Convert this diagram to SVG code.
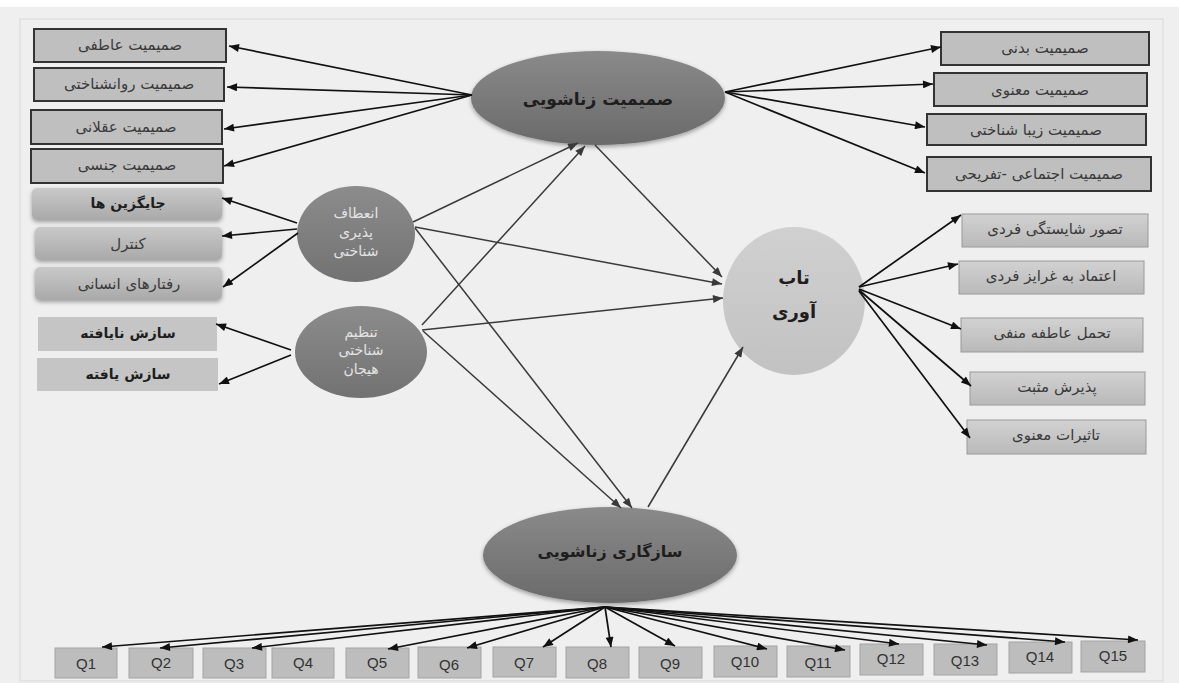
<svg xmlns="http://www.w3.org/2000/svg" width="1179" height="683" viewBox="0 0 1179 683">
<style>
.t{font-family:"DejaVu Sans","Noto Sans",sans-serif;font-size:15px;fill:#3a3a3a;text-anchor:middle;dominant-baseline:central}
.tb{font-family:"DejaVu Sans","Noto Sans",sans-serif;font-size:14px;font-weight:bold;fill:#1e1e1e;text-anchor:middle;dominant-baseline:central}
.tc{font-family:"DejaVu Sans","Noto Sans",sans-serif;font-size:14px;fill:#e4e4e4;text-anchor:middle;dominant-baseline:central}
.tq{font-family:"Liberation Sans",Arial,sans-serif;font-size:15px;fill:#333;text-anchor:middle;dominant-baseline:central}
.bx{fill:#bfbfbf;stroke:#333;stroke-width:2}
.sb{fill:url(#gs);stroke:none}
.fl{fill:#c5c5c5;stroke:none}
.rb{fill:url(#gr);stroke:#9a9a9a;stroke-width:1}
.qb{fill:#bdbdbd;stroke:#a3a3a3;stroke-width:1}
.c{stroke:#111;stroke-width:1.7;fill:none;marker-end:url(#ah)}
.ci{stroke:#3a3a3a;stroke-width:1.5;fill:none;marker-end:url(#ah2)}
</style>
<defs>
<marker id="ah" viewBox="0 0 10 8" refX="10" refY="4" markerWidth="11" markerHeight="8" markerUnits="userSpaceOnUse" orient="auto"><path d="M0,0 L10,4 L0,8 z" fill="#111"/></marker>
<marker id="ah2" viewBox="0 0 10 8" refX="10" refY="4" markerWidth="11" markerHeight="8" markerUnits="userSpaceOnUse" orient="auto"><path d="M0,0 L10,4 L0,8 z" fill="#3a3a3a"/></marker>
<linearGradient id="gd" x1="0" y1="0" x2="0" y2="1"><stop offset="0" stop-color="#8a8a8a"/><stop offset="1" stop-color="#6a6a6a"/></linearGradient>
<linearGradient id="gc" x1="0" y1="0" x2="0" y2="1"><stop offset="0" stop-color="#8c8c8c"/><stop offset="1" stop-color="#727272"/></linearGradient>
<linearGradient id="gl" x1="0" y1="0" x2="0" y2="1"><stop offset="0" stop-color="#d0d0d0"/><stop offset="1" stop-color="#c2c2c2"/></linearGradient>
<linearGradient id="gs" x1="0" y1="0" x2="0" y2="1"><stop offset="0" stop-color="#c9c9c9"/><stop offset="1" stop-color="#a9a9a9"/></linearGradient>
<linearGradient id="gr" x1="0" y1="0" x2="0" y2="1"><stop offset="0" stop-color="#d2d2d2"/><stop offset="1" stop-color="#b9b9b9"/></linearGradient>
<filter id="sh" x="-10%" y="-10%" width="120%" height="130%"><feDropShadow dx="0" dy="2" stdDeviation="2" flood-opacity="0.35"/></filter>
</defs>
<rect width="1179" height="683" fill="#efefef"/>
<rect width="1179" height="7" fill="#ffffff"/>
<rect x="20" y="19" width="1143" height="662" fill="none" stroke="#d9d9d9" stroke-width="1"/>

<g id="n-top"><ellipse cx="598" cy="98" rx="127" ry="47" fill="url(#gd)" filter="url(#sh)"/><text class="tb" x="598" y="99" style="font-size:17px">صمیمیت زناشویی</text></g>
<g id="n-tab"><ellipse cx="794" cy="301" rx="71" ry="74" fill="url(#gl)"/><text class="tb" x="794" y="277" style="font-size:18px">تاب</text><text class="tb" x="794" y="311" style="font-size:18px">آوری</text></g>
<g id="n-bottom"><ellipse cx="610" cy="555" rx="127" ry="48" fill="url(#gd)" filter="url(#sh)"/><text class="tb" x="610" y="551" style="font-size:16px">سازگاری زناشویی</text></g>
<g id="n-c1"><ellipse cx="356" cy="234" rx="59" ry="48" fill="url(#gc)"/><text class="tc" x="356" y="213">انعطاف</text><text class="tc" x="356" y="232">پذیری</text><text class="tc" x="356" y="251">شناختی</text></g>
<g id="n-c2"><ellipse cx="361" cy="352" rx="66" ry="46" fill="url(#gc)"/><text class="tc" x="361" y="332">تنظیم</text><text class="tc" x="361" y="350">شناختی</text><text class="tc" x="361" y="369">هیجان</text></g>

<g id="n-l1"><rect class="bx" x="34" y="29" width="192" height="33"/><text class="t" x="130" y="45">صمیمیت  عاطفی</text></g>
<g id="n-l2"><rect class="bx" x="34" y="68" width="190" height="33"/><text class="t" x="129" y="84">صمیمیت روانشناختی</text></g>
<g id="n-l3"><rect class="bx" x="31" y="110" width="191" height="34"/><text class="t" x="126" y="127">صمیمیت عقلانی</text></g>
<g id="n-l4"><rect class="bx" x="31" y="149" width="192" height="34"/><text class="t" x="127" y="165">صمیمیت جنسی</text></g>
<g id="n-l5"><rect class="sb" x="32" y="188" width="190" height="32" rx="5" filter="url(#sh)"/><text class="tb" x="128" y="203">جایگزین ها</text></g>
<g id="n-l6"><rect class="sb" x="35" y="227" width="187" height="33" rx="5" filter="url(#sh)"/><text class="t" x="128" y="244">کنترل</text></g>
<g id="n-l7"><rect class="sb" x="35" y="267" width="187" height="33" rx="5" filter="url(#sh)"/><text class="t" x="129" y="284">رفتارهای انسانی</text></g>
<g id="n-l8"><rect class="fl" x="38" y="317" width="179" height="34"/><text class="tb" x="128" y="333">سازش نایافته</text></g>
<g id="n-l9"><rect class="fl" x="37" y="358" width="181" height="33"/><text class="tb" x="128" y="374">سازش یافته</text></g>

<g id="n-r1"><rect class="bx" x="941" y="32" width="208" height="33"/><text class="t" x="1045" y="48">صمیمیت بدنی</text></g>
<g id="n-r2"><rect class="bx" x="934" y="73" width="213" height="33"/><text class="t" x="1040" y="90">صمیمیت معنوی</text></g>
<g id="n-r3"><rect class="bx" x="927" y="114" width="219" height="31"/><text class="t" x="1036" y="130">صمیمیت زیبا شناختی</text></g>
<g id="n-r4"><rect class="bx" x="927" y="157" width="224" height="34"/><text class="t" x="1039" y="174">صمیمیت اجتماعی -تفریحی</text></g>
<g id="n-r5"><rect class="rb" x="962" y="214" width="186" height="33"/><text class="t" x="1055" y="229">تصور شایستگی فردی</text></g>
<g id="n-r6"><rect class="rb" x="959" y="261" width="185" height="33"/><text class="t" x="1051" y="276">اعتماد به غرایز فردی</text></g>
<g id="n-r7"><rect class="rb" x="961" y="318" width="182" height="34"/><text class="t" x="1052" y="333">تحمل عاطفه منفی</text></g>
<g id="n-r8"><rect class="rb" x="970" y="372" width="175" height="33"/><text class="t" x="1057" y="387">پذیرش مثبت</text></g>
<g id="n-r9"><rect class="rb" x="967" y="420" width="179" height="34"/><text class="t" x="1056" y="435">تاثیرات معنوی</text></g>

<g id="n-q1"><rect class="qb" x="55" y="648" width="62" height="30"/><text class="tq" x="86" y="663">Q1</text></g>
<g id="n-q2"><rect class="qb" x="129" y="648" width="64" height="30"/><text class="tq" x="161" y="662">Q2</text></g>
<g id="n-q3"><rect class="qb" x="203" y="648" width="63" height="30"/><text class="tq" x="234" y="663">Q3</text></g>
<g id="n-q4"><rect class="qb" x="272" y="648" width="62" height="30"/><text class="tq" x="303" y="662">Q4</text></g>
<g id="n-q5"><rect class="qb" x="346" y="648" width="63" height="30"/><text class="tq" x="377" y="662">Q5</text></g>
<g id="n-q6"><rect class="qb" x="418" y="647" width="63" height="31"/><text class="tq" x="449" y="664">Q6</text></g>
<g id="n-q7"><rect class="qb" x="493" y="647" width="63" height="30"/><text class="tq" x="524" y="662">Q7</text></g>
<g id="n-q8"><rect class="qb" x="566" y="647" width="63" height="31"/><text class="tq" x="597" y="663">Q8</text></g>
<g id="n-q9"><rect class="qb" x="639" y="647" width="63" height="31"/><text class="tq" x="670" y="663">Q9</text></g>
<g id="n-q10"><rect class="qb" x="714" y="646" width="63" height="31"/><text class="tq" x="745" y="661">Q10</text></g>
<g id="n-q11"><rect class="qb" x="787" y="646" width="63" height="31"/><text class="tq" x="818" y="662">Q11</text></g>
<g id="n-q12"><rect class="qb" x="860" y="644" width="63" height="31"/><text class="tq" x="891" y="658">Q12</text></g>
<g id="n-q13"><rect class="qb" x="934" y="644" width="63" height="31"/><text class="tq" x="965" y="660">Q13</text></g>
<g id="n-q14"><rect class="qb" x="1009" y="642" width="63" height="31"/><text class="tq" x="1040" y="656">Q14</text></g>
<g id="n-q15"><rect class="qb" x="1081" y="641" width="64" height="31"/><text class="tq" x="1113" y="655">Q15</text></g>

<g id="connectors">
<line class="c" x1="472" y1="95" x2="229" y2="46"/>
<line class="c" x1="472" y1="95" x2="227" y2="87"/>
<line class="c" x1="472" y1="95" x2="224" y2="129"/>
<line class="c" x1="472" y1="95" x2="224" y2="166"/>
<line class="c" x1="725" y1="92" x2="941" y2="47"/>
<line class="c" x1="725" y1="92" x2="933" y2="84"/>
<line class="c" x1="725" y1="92" x2="925" y2="127"/>
<line class="c" x1="725" y1="92" x2="925" y2="173"/>
<line class="c" x1="297" y1="223" x2="222" y2="198"/>
<line class="c" x1="297" y1="229" x2="222" y2="236"/>
<line class="c" x1="298" y1="233" x2="223" y2="287"/>
<line class="c" x1="291" y1="350" x2="216" y2="324"/>
<line class="c" x1="291" y1="355" x2="219" y2="384"/>
<line class="c" x1="859" y1="287" x2="961" y2="215"/>
<line class="c" x1="859" y1="287" x2="958" y2="264"/>
<line class="c" x1="859" y1="289" x2="961" y2="329"/>
<line class="c" x1="859" y1="290" x2="971" y2="386"/>
<line class="c" x1="859" y1="291" x2="970" y2="438"/>
<line class="ci" x1="413" y1="222" x2="578" y2="143"/>
<line class="ci" x1="422" y1="325" x2="585" y2="146"/>
<line class="ci" x1="595" y1="145" x2="722" y2="277"/>
<line class="ci" x1="415" y1="227" x2="722" y2="284"/>
<line class="ci" x1="422" y1="330" x2="723" y2="298"/>
<line class="ci" x1="415" y1="228" x2="632" y2="508"/>
<line class="ci" x1="423" y1="331" x2="621" y2="508"/>
<line class="ci" x1="648" y1="507" x2="743" y2="347"/>
<line class="c" x1="605" y1="607" x2="102" y2="647"/>
<line class="c" x1="605" y1="607" x2="160" y2="648"/>
<line class="c" x1="605" y1="607" x2="252" y2="648"/>
<line class="c" x1="605" y1="607" x2="388" y2="649"/>
<line class="c" x1="605" y1="607" x2="467" y2="648"/>
<line class="c" x1="605" y1="607" x2="543" y2="647"/>
<line class="c" x1="605" y1="607" x2="611" y2="647"/>
<line class="c" x1="605" y1="607" x2="675" y2="646"/>
<line class="c" x1="605" y1="607" x2="767" y2="649"/>
<line class="c" x1="605" y1="607" x2="845" y2="650"/>
<line class="c" x1="605" y1="607" x2="899" y2="644"/>
<line class="c" x1="605" y1="607" x2="987" y2="645"/>
<line class="c" x1="605" y1="607" x2="1065" y2="642"/>
<line class="c" x1="605" y1="607" x2="1138" y2="640"/>
</g>
</svg>
